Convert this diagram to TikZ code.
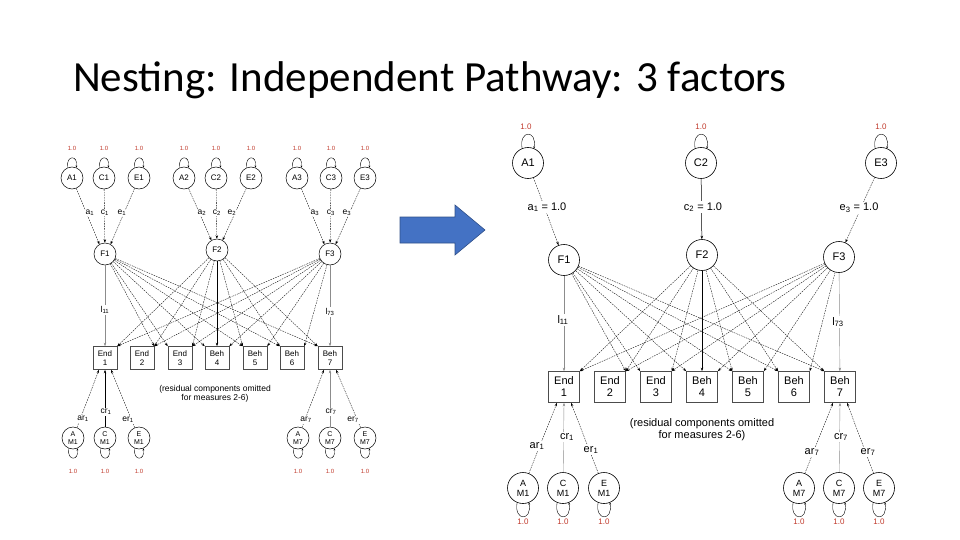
\documentclass[tikz,border=0pt]{standalone}
\usepackage{fontspec}
\setmainfont{Liberation Sans}
\newfontfamily\titlefont{Carlito}
\usetikzlibrary{arrows.meta}
\definecolor{redl}{HTML}{C0392B}
\definecolor{barrowc}{HTML}{4472C4}
\begin{document}
\begin{tikzpicture}[x=1pt,y=-1pt,
  ldg/.style={-{Stealth[length=3.5pt,width=2.5pt]},line width=0.35pt,dash pattern=on 1.6pt off 1pt},
  sol/.style={-{Stealth[length=3.5pt,width=2.5pt]},line width=0.5pt},
  faint/.style={-{Stealth[length=3.5pt,width=2.5pt]},line width=0.4pt,draw=black!45},
  lp/.style={-{Stealth[length=2pt,width=1.8pt]},line width=0.4pt},
  Rc/.style={circle,draw,line width=0.6pt,minimum size=31pt,inner sep=0pt,font=\fontsize{11}{12}\selectfont},
  Rb/.style={rectangle,draw,line width=0.7pt,draw=black!70,minimum width=31pt,minimum height=31pt,inner sep=0pt,align=center,font=\fontsize{11}{12}\selectfont},
  Rl/.style={font=\fontsize{11}{12}\selectfont,inner sep=1pt},
  Rr/.style={text=redl,font=\fontsize{8}{9}\selectfont,inner sep=0pt},
  Lc/.style={circle,draw,line width=0.5pt,minimum size=22pt,inner sep=0pt,font=\fontsize{8}{9}\selectfont},
  Lb/.style={rectangle,draw,line width=0.6pt,draw=black!70,minimum width=24pt,minimum height=23pt,inner sep=0pt,align=center,font=\fontsize{8}{9}\selectfont},
  Ll/.style={font=\fontsize{8.5}{9}\selectfont,inner sep=1pt},
  Lr/.style={text=redl,font=\fontsize{6}{7}\selectfont,inner sep=0pt}]
\useasboundingbox (0,0) rectangle (960,540);
\node[anchor=west,font=\titlefont\fontsize{43}{46}\selectfont,inner sep=0pt] (title) at (73,80) {Nesting: Independent Pathway: 3 factors};
% blue arrow
\filldraw[fill=barrowc,draw=barrowc!70!black,line width=0.6pt] (400,217) -- (455,217) -- (455,205) -- (485,230) -- (455,255) -- (455,243) -- (400,243) -- cycle;
% ================= RIGHT
\node[Rc] (RA1) at (528,163) {A1};
\node[Rc] (RC2) at (701,163) {C2};
\node[Rc] (RE3) at (881,163) {E3};
\node[Rc] (RF1) at (564,260) {F1};
\node[Rc] (RF2) at (702,255) {F2};
\node[Rc] (RF3) at (839,257) {F3};
\foreach \n in {RA1,RC2,RE3}{
  \draw[lp] (\n.112) .. controls +(100:19pt) and +(80:19pt) .. (\n.68);}
\node[Rr] (rr1) at (526,127) {1.0};
\node[Rr] (rr2) at (701,127) {1.0};
\node[Rr] (rr3) at (881,127) {1.0};
\draw[ldg] (RA1) -- (RF1);
\draw[sol] (RC2) -- (RF2);
\draw[ldg] (RE3) -- (RF3);
\node[Rl,fill=white] (la1) at (547,207) {a\textsubscript{1} = 1.0};
\node[Rl,fill=white] (lc2) at (703,207) {c\textsubscript{2} = 1.0};
\node[Rl,fill=white] (le3) at (859,208) {e\textsubscript{3} = 1.0};
\node[Rb] (RB1) at (564,387) {End\\1};
\node[Rb] (RB2) at (610,387) {End\\2};
\node[Rb] (RB3) at (656,387) {End\\3};
\node[Rb] (RB4) at (702,387) {Beh\\4};
\node[Rb] (RB5) at (748,387) {Beh\\5};
\node[Rb] (RB6) at (794,387) {Beh\\6};
\node[Rb] (RB7) at (840,387) {Beh\\7};
\foreach \f in {1,2,3}{\foreach \b in {1,...,7}{
  \pgfmathtruncatemacro{\k}{10*\f+\b}
  \ifnum\k=11 \draw[faint] (RF1) -- (RB1);
  \else\ifnum\k=24 \draw[sol] (RF2) -- (RB4);
  \else\ifnum\k=37 \draw[faint] (RF3) -- (RB7);
  \else \draw[ldg] (RF\f) -- (RB\b.north \ifnum\b<\numexpr 2*\f+1\relax east\else west\fi);
  \fi\fi\fi}}
\node[Rl,fill=white] (l11) at (563,320) {l\textsubscript{11}};
\node[Rl,fill=white] (l73) at (838,322) {l\textsubscript{73}};
\node[Rl,align=center] (resR) at (702,430) {(residual components omitted\\for measures 2-6)};
\node[Rc,align=center,font=\fontsize{9}{10}\selectfont] (RAM1) at (523,488) {A\\M1};
\node[Rc,align=center,font=\fontsize{9}{10}\selectfont] (RCM1) at (563,488) {C\\M1};
\node[Rc,align=center,font=\fontsize{9}{10}\selectfont] (REM1) at (604,488) {E\\M1};
\node[Rc,align=center,font=\fontsize{9}{10}\selectfont] (RAM7) at (799,488) {A\\M7};
\node[Rc,align=center,font=\fontsize{9}{10}\selectfont] (RCM7) at (839,488) {C\\M7};
\node[Rc,align=center,font=\fontsize{9}{10}\selectfont] (REM7) at (879,488) {E\\M7};
\foreach \n/\x in {RAM1/523,RCM1/563,REM1/604,RAM7/799,RCM7/839,REM7/879}{
  \draw[lp] (\n.248) .. controls +(260:19pt) and +(280:19pt) .. (\n.292);
  \node[Rr] (r\n) at (\x,522) {1.0};}
\draw[ldg] (RAM1) -- ([xshift=-7pt]RB1.south);
\draw[faint] (RCM1) -- (RB1.south);
\draw[ldg] (REM1) -- ([xshift=7pt]RB1.south);
\draw[ldg] (RAM7) -- ([xshift=-7pt]RB7.south);
\draw[faint] (RCM7) -- (RB7.south);
\draw[ldg] (REM7) -- ([xshift=7pt]RB7.south);
\node[Rl,fill=white] (ar1) at (537,446) {ar\textsubscript{1}};
\node[Rl,fill=white] (cr1) at (567,437) {cr\textsubscript{1}};
\node[Rl,fill=white] (er1) at (591,450) {er\textsubscript{1}};
\node[Rl,fill=white] (ar7) at (812,452) {ar\textsubscript{7}};
\node[Rl,fill=white] (cr7) at (841,437) {cr\textsubscript{7}};
\node[Rl,fill=white] (er7) at (868,452) {er\textsubscript{7}};
% ================= LEFT
\foreach \n/\t/\x in {LA1/A1/72,LC1/C1/104,LE1/E1/139,LA2/A2/184,LC2/C2/216,LE2/E2/251,LA3/A3/297,LC3/C3/331,LE3/E3/365}{
  \node[Lc] (\n) at (\x,178) {\t};
  \draw[lp] (\n.112) .. controls +(100:13pt) and +(80:13pt) .. (\n.68);
  \node[Lr] (r\n) at (\x,148) {1.0};}
\node[Lc] (LF1) at (105,254) {F1};
\node[Lc] (LF2) at (217,250) {F2};
\node[Lc] (LF3) at (330,254) {F3};
\foreach \i in {1,2,3}{
  \draw[ldg] (LA\i) -- (LF\i.120);
  \draw[ldg] (LC\i) -- (LF\i);
  \draw[ldg] (LE\i) -- (LF\i.60);}
\foreach \t/\x in {a\textsubscript{1}/90,c\textsubscript{1}/105,e\textsubscript{1}/122,a\textsubscript{2}/202,c\textsubscript{2}/217,e\textsubscript{2}/232,a\textsubscript{3}/315,c\textsubscript{3}/331,e\textsubscript{3}/347}{
  \node[Ll,fill=white,inner sep=0.3pt] (lab\x) at (\x,213) {\t};}
\node[Lb] (LB1) at (105,358) {End\\1};
\node[Lb] (LB2) at (142,358) {End\\2};
\node[Lb] (LB3) at (180,358) {End\\3};
\node[Lb] (LB4) at (217,358) {Beh\\4};
\node[Lb] (LB5) at (255,358) {Beh\\5};
\node[Lb] (LB6) at (292,358) {Beh\\6};
\node[Lb] (LB7) at (330,358) {Beh\\7};
\foreach \f in {1,2,3}{\foreach \b in {1,...,7}{
  \pgfmathtruncatemacro{\k}{10*\f+\b}
  \ifnum\k=11 \draw[faint] (LF1) -- (LB1);
  \else\ifnum\k=24 \draw[sol] (LF2) -- (LB4);
  \else\ifnum\k=37 \draw[faint] (LF3) -- (LB7);
  \else \draw[ldg] (LF\f) -- (LB\b.north \ifnum\b<\numexpr 2*\f+1\relax east\else west\fi);
  \fi\fi\fi}}
\node[Ll,fill=white] (ll11) at (105,310) {l\textsubscript{11}};
\node[Ll,fill=white] (ll73) at (330,312) {l\textsubscript{73}};
\node[Ll,align=center] (resL) at (215,394) {(residual components omitted\\for measures 2-6)};
\foreach \n/\t/\x in {LAM1/A/73,LCM1/C/105,LEM1/E/139,LAM7/A/298,LCM7/C/330,LEM7/E/365}{
  \node[Lc,align=center,font=\fontsize{7}{8}\selectfont] (\n) at (\x,438) {\t\\M\ifnum\x<200 1\else 7\fi};
  \draw[lp] (\n.248) .. controls +(260:13pt) and +(280:13pt) .. (\n.292);
  \node[Lr] (r\n) at (\x,471) {1.0};}
\draw[ldg] (LAM1) -- ([xshift=-6pt]LB1.south);
\draw[sol] (LCM1) -- (LB1.south);
\draw[ldg] (LEM1) -- ([xshift=6pt]LB1.south);
\draw[ldg] (LAM7) -- ([xshift=-6pt]LB7.south);
\draw[faint] (LCM7) -- (LB7.south);
\draw[ldg] (LEM7) -- ([xshift=6pt]LB7.south);
\node[Ll,fill=white] (lar1) at (83,419) {ar\textsubscript{1}};
\node[Ll,fill=white] (lcr1) at (106,412) {cr\textsubscript{1}};
\node[Ll,fill=white] (ler1) at (128,420) {er\textsubscript{1}};
\node[Ll,fill=white] (lar7) at (306,420) {ar\textsubscript{7}};
\node[Ll,fill=white] (lcr7) at (331,412) {cr\textsubscript{7}};
\node[Ll,fill=white] (ler7) at (353,420) {er\textsubscript{7}};
\end{tikzpicture}
\end{document}
